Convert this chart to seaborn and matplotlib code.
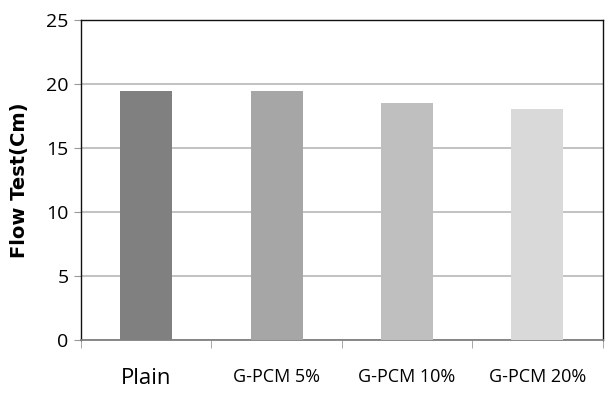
import pandas as pd
import matplotlib.pyplot as plt
import seaborn as sns

# data
mixes = ['Plain', 'G-PCM 5%', 'G-PCM 10%', 'G-PCM 20%']
flow = [19.4, 19.4, 18.5, 18.0]
bar_colors = ['#808080', '#a6a6a6', '#bfbfbf', '#d9d9d9']
y_ticks = [0, 5, 10, 15, 20, 25]

df = pd.DataFrame({'mix': mixes, 'flow': flow})

sns.set_style('white')
plt.rcParams['font.family'] = ['Open Sans', 'DejaVu Sans']
plt.rcParams['text.color'] = 'black'
plt.rcParams['xtick.labelcolor'] = 'black'
plt.rcParams['ytick.labelcolor'] = 'black'
plt.rcParams['axes.labelcolor'] = 'black'

fig = plt.figure(figsize=(6.05, 3.94), dpi=100)
ax = fig.add_axes([0.134, 0.137, 0.862, 0.813])

sns.barplot(x='mix', y='flow', data=df, hue='mix', palette=bar_colors,
            width=0.4, legend=False, ax=ax, zorder=3, linewidth=0)

ax.set_ylim(0, 25)
ax.set_xlim(-0.5, 3.5)
ax.set_yticks(y_ticks)
ax.yaxis.grid(True, color='#b8b8b8', linewidth=1.2, zorder=0)
ax.set_axisbelow(True)

for s in ['top', 'right', 'left']:
    ax.spines[s].set_color('#111111')
    ax.spines[s].set_linewidth(1.0)
ax.spines['bottom'].set_color('#808080')
ax.spines['bottom'].set_linewidth(1.3)

# category boundary ticks like excel
ax.set_xticks([-0.5, 0.5, 1.5, 2.5, 3.5], minor=True)
ax.tick_params(axis='x', which='minor', length=6, color='#999999', bottom=True)
ax.tick_params(axis='x', which='major', length=0, pad=20)
ax.tick_params(axis='y', length=5, color='#999999', left=True, labelsize=14, pad=4)

for i, lab in enumerate(ax.get_xticklabels()):
    lab.set_fontsize(16 if i == 0 else 13)

ax.set_xlabel('')
ax.set_ylabel('Flow Test(Cm)', fontsize=14, fontweight='bold', labelpad=12,
              family='DejaVu Sans')

plt.savefig('out.png', dpi=100)
